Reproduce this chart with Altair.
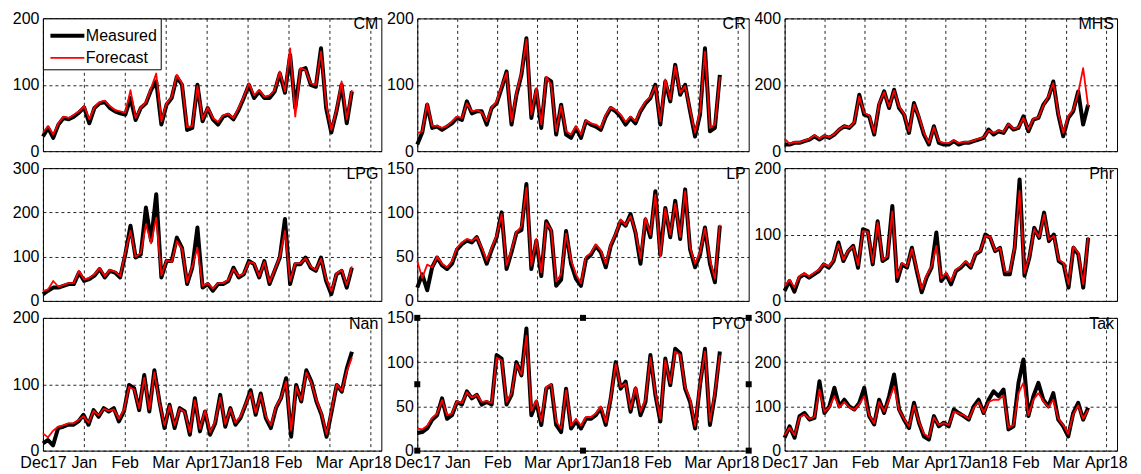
import altair as alt
import pandas as pd

FONT = "Liberation Sans"

# x axis: equally spaced month ticks (index 0..8)
X_TICKS = [0, 1, 2, 3, 4, 5, 6, 7, 8]
X_LABELS = ["Dec17", "Jan", "Feb", "Mar", "Apr17", "Jan18", "Feb", "Mar", "Apr18"]
X_MAX = 8.28
T_END = 7.56

NAMES = ["CM", "CR", "MHS", "LPG", "LP", "Phr", "Nan", "PYO", "Tak"]
Y_MAX = [200, 200, 400, 300, 150, 200, 200, 150, 300]
Y_TICKS = [[0, 100, 200], [0, 100, 200], [0, 200, 400], [0, 100, 200, 300],
           [0, 50, 100, 150], [0, 100, 200], [0, 100, 200], [0, 50, 100, 150],
           [0, 100, 200, 300]]

cm_meas = [22, 35, 20, 40, 50, 48, 52, 58, 66, 42, 65, 72, 74, 65, 60, 57, 55, 80, 47, 65, 72, 92, 105, 40, 70, 80, 112, 100, 32, 35, 100, 45, 65, 48, 40, 52, 55, 48, 62, 80, 100, 80, 90, 80, 80, 90, 117, 88, 145, 65, 122, 125, 100, 97, 155, 65, 28, 60, 100, 42, 90]
cm_fc = [28, 38, 25, 42, 52, 50, 55, 60, 68, 48, 66, 74, 76, 68, 62, 60, 58, 92, 50, 66, 74, 95, 117, 45, 72, 82, 115, 102, 36, 38, 98, 48, 66, 50, 44, 54, 56, 50, 65, 82, 102, 84, 92, 82, 84, 92, 120, 90, 155, 52, 125, 122, 102, 100, 150, 70, 32, 62, 105, 48, 92]

cr_meas = [10, 28, 70, 35, 37, 32, 37, 42, 50, 47, 75, 57, 60, 60, 40, 65, 72, 95, 120, 40, 85, 115, 170, 50, 92, 35, 110, 105, 25, 70, 25, 20, 35, 20, 45, 40, 37, 32, 52, 65, 60, 52, 40, 50, 42, 60, 72, 80, 100, 40, 105, 75, 130, 85, 100, 60, 22, 55, 155, 30, 35, 115]
cr_fc = [27, 30, 72, 38, 38, 35, 38, 45, 52, 50, 72, 60, 62, 58, 45, 66, 75, 98, 118, 45, 88, 118, 168, 55, 95, 40, 112, 100, 30, 68, 30, 25, 38, 25, 46, 42, 40, 35, 55, 66, 62, 55, 44, 52, 45, 62, 75, 82, 98, 45, 108, 78, 128, 88, 98, 62, 28, 60, 150, 35, 40, 112]

mhs_meas = [20, 20, 25, 25, 30, 35, 45, 35, 45, 40, 50, 65, 75, 70, 85, 170, 110, 105, 50, 140, 180, 130, 185, 130, 110, 55, 145, 100, 50, 20, 75, 25, 20, 20, 30, 20, 25, 25, 30, 35, 40, 65, 50, 60, 55, 80, 65, 70, 105, 60, 95, 100, 140, 160, 210, 110, 45, 100, 120, 180, 80, 140]
mhs_fc = [38, 22, 28, 27, 32, 37, 48, 38, 47, 42, 52, 66, 76, 72, 88, 165, 115, 108, 55, 145, 178, 135, 182, 135, 112, 60, 140, 105, 55, 25, 72, 30, 25, 24, 32, 25, 28, 28, 32, 38, 42, 62, 55, 62, 58, 82, 68, 72, 100, 65, 98, 102, 138, 165, 205, 115, 55, 105, 125, 175, 250, 135]

lpg_meas = [15, 23, 30, 30, 34, 38, 38, 64, 45, 49, 57, 72, 53, 68, 64, 53, 105, 170, 98, 105, 211, 136, 241, 53, 90, 90, 143, 120, 38, 75, 166, 30, 38, 23, 38, 38, 45, 75, 53, 60, 90, 83, 53, 90, 38, 68, 98, 185, 38, 83, 83, 98, 75, 68, 98, 45, 15, 60, 68, 30, 75]
lpg_fc = [22, 26, 45, 32, 36, 40, 40, 68, 48, 52, 60, 74, 56, 70, 66, 56, 110, 158, 100, 108, 173, 130, 188, 58, 92, 88, 135, 118, 42, 78, 120, 34, 40, 28, 40, 40, 48, 72, 56, 62, 88, 85, 56, 88, 42, 70, 100, 158, 45, 85, 85, 96, 78, 70, 95, 50, 22, 62, 70, 36, 78]

lp_meas = [15, 30, 12, 38, 49, 40, 36, 42, 58, 64, 68, 66, 72, 58, 42, 58, 72, 100, 36, 55, 77, 80, 132, 36, 68, 28, 90, 79, 17, 24, 79, 42, 25, 17, 47, 52, 62, 55, 38, 62, 75, 90, 85, 98, 77, 42, 92, 72, 124, 52, 105, 72, 113, 70, 126, 58, 38, 52, 83, 42, 21, 85]
lp_fc = [45, 26, 41, 38, 50, 42, 38, 45, 60, 66, 70, 68, 72, 60, 46, 60, 74, 98, 40, 58, 78, 84, 128, 40, 70, 32, 88, 80, 22, 30, 76, 46, 30, 20, 50, 54, 64, 57, 42, 64, 76, 92, 86, 96, 78, 48, 94, 75, 120, 50, 104, 75, 110, 72, 124, 60, 42, 55, 82, 46, 25, 86]

phr_meas = [15, 30, 14, 35, 40, 35, 40, 45, 55, 50, 60, 88, 60, 75, 83, 50, 108, 105, 55, 120, 60, 65, 143, 30, 55, 50, 80, 45, 13, 35, 50, 103, 30, 40, 25, 45, 50, 58, 50, 70, 75, 100, 95, 75, 80, 40, 40, 80, 183, 38, 65, 110, 95, 133, 90, 100, 60, 55, 20, 80, 70, 20, 95]
phr_fc = [22, 32, 20, 37, 42, 37, 42, 47, 56, 52, 62, 85, 62, 76, 82, 54, 105, 104, 58, 118, 62, 67, 135, 35, 57, 52, 78, 48, 18, 38, 52, 83, 34, 42, 30, 47, 52, 60, 52, 72, 76, 98, 96, 76, 80, 44, 44, 82, 166, 42, 67, 108, 96, 130, 92, 98, 62, 57, 25, 82, 72, 25, 96]

nan_meas = [11, 16, 8, 34, 36, 39, 39, 44, 54, 39, 61, 51, 64, 59, 64, 44, 59, 99, 94, 61, 114, 59, 121, 74, 34, 69, 34, 64, 59, 24, 79, 29, 59, 24, 41, 84, 36, 64, 39, 49, 69, 91, 54, 86, 49, 34, 64, 79, 109, 21, 99, 74, 121, 104, 74, 54, 21, 59, 99, 89, 124, 149]
nan_fc = [26, 20, 30, 36, 38, 41, 41, 46, 52, 42, 60, 53, 63, 60, 62, 48, 62, 96, 92, 64, 110, 62, 118, 72, 38, 68, 38, 63, 58, 28, 76, 33, 60, 28, 44, 80, 40, 63, 42, 52, 70, 88, 57, 84, 52, 38, 66, 80, 104, 30, 96, 76, 118, 102, 76, 56, 25, 62, 100, 90, 120, 140]

pyo_meas = [20, 21, 25, 35, 40, 59, 36, 40, 55, 52, 67, 59, 63, 52, 55, 52, 108, 104, 52, 63, 100, 85, 138, 40, 55, 29, 70, 74, 29, 21, 70, 25, 33, 25, 36, 36, 40, 48, 29, 59, 100, 70, 78, 44, 70, 40, 55, 108, 63, 33, 104, 74, 115, 110, 70, 55, 25, 74, 115, 29, 63, 112]
pyo_fc = [25, 24, 28, 37, 42, 57, 40, 42, 56, 54, 66, 60, 63, 55, 56, 54, 105, 102, 55, 65, 98, 86, 130, 45, 57, 33, 72, 75, 33, 25, 68, 28, 36, 28, 38, 38, 42, 50, 32, 60, 98, 72, 76, 47, 72, 44, 58, 105, 65, 36, 102, 76, 112, 108, 72, 58, 28, 76, 112, 33, 66, 108]

tak_meas = [29, 55, 29, 78, 85, 70, 74, 157, 85, 100, 142, 100, 115, 100, 93, 108, 142, 78, 59, 115, 85, 123, 172, 93, 70, 51, 108, 63, 32, 25, 78, 55, 63, 55, 93, 85, 78, 70, 100, 115, 85, 115, 134, 123, 138, 48, 55, 153, 206, 78, 123, 153, 115, 100, 130, 70, 55, 32, 85, 108, 70, 97]
tak_fc = [35, 52, 35, 75, 82, 72, 76, 138, 88, 98, 123, 98, 110, 98, 92, 105, 123, 80, 62, 110, 88, 115, 145, 92, 72, 55, 102, 65, 38, 30, 75, 58, 62, 58, 88, 84, 80, 72, 96, 110, 86, 110, 115, 115, 125, 52, 58, 130, 153, 80, 115, 130, 112, 98, 115, 72, 58, 38, 82, 102, 72, 92]

MEAS = [cm_meas, cr_meas, mhs_meas, lpg_meas, lp_meas, phr_meas, nan_meas, pyo_meas, tak_meas]
FC = [cm_fc, cr_fc, mhs_fc, lpg_fc, lp_fc, phr_fc, nan_fc, pyo_fc, tak_fc]

# selection handles visible around the PYO axes
PYO_HANDLE_X = [0, 4.14, 8.28, 0, 8.28, 0, 4.14, 8.28]
PYO_HANDLE_Y = [150, 150, 150, 75, 75, 0, 0, 0]

COL_W = [339, 332, 333]
PANEL_H = 133
SERIES = ["Measured", "Forecast"]

label_expr = "[" + ",".join("'%s'" % s for s in X_LABELS) + "][datum.value]"


def panel(k):
    name = NAMES[k]
    row, col = divmod(k, 3)
    recs = []
    for s, vals in zip(SERIES, [MEAS[k], FC[k]]):
        n = len(vals)
        for i, v in enumerate(vals):
            recs.append({"t": i * T_END / (n - 1), "value": v, "series": s})
    df = pd.DataFrame(recs)

    x = alt.X("t:Q", title=None,
              scale=alt.Scale(domain=[0, X_MAX], nice=False, zero=False),
              axis=alt.Axis(values=X_TICKS, labelExpr=label_expr, labels=(row == 2)))
    y = alt.Y("value:Q", title=None,
              scale=alt.Scale(domain=[0, Y_MAX[k]], nice=False),
              axis=alt.Axis(values=Y_TICKS[k]))
    if k == 0:
        leg = alt.Legend(title=None, orient="top-left", offset=0, padding=3,
                         fillColor="white", strokeColor="black",
                         labelFont=FONT, labelFontSize=16, labelColor="black",
                         symbolType="M-1.36,0H1.36", symbolSize=625,
                         symbolOffset=7, labelOffset=4, rowPadding=0)
    else:
        leg = None
    color = alt.Color("series:N", scale=alt.Scale(domain=SERIES, range=["#000000", "#ff0000"]), legend=leg)
    sw = alt.StrokeWidth("series:N", scale=alt.Scale(domain=SERIES, range=[4, 1.8]), legend=leg)

    base = alt.Chart(df)
    m = base.transform_filter("datum.series == 'Measured'").mark_line(strokeJoin="round").encode(x=x, y=y, color=color, strokeWidth=sw)
    f = base.transform_filter("datum.series == 'Forecast'").mark_line(strokeJoin="round").encode(x=x, y=y, color=color, strokeWidth=sw)
    layers = [m, f]
    if name == "PYO":
        hdf = pd.DataFrame({"hx": PYO_HANDLE_X, "hy": PYO_HANDLE_Y})
        h = alt.Chart(hdf).mark_square(size=36, color="black", opacity=1).encode(
            x=alt.X("hx:Q", scale=alt.Scale(domain=[0, X_MAX], nice=False, zero=False)),
            y=alt.Y("hy:Q", scale=alt.Scale(domain=[0, Y_MAX[k]], nice=False)))
        layers.append(h)
    return alt.layer(*layers).properties(
        width=COL_W[col], height=PANEL_H,
        title=alt.TitleParams(text=name, anchor="end", frame="group", offset=-22,
                              fontSize=16, fontWeight="normal", font=FONT,
                              color="black", dx=-3))


chart = alt.concat(*[panel(k) for k in range(9)], columns=3,
                   spacing={"row": 17, "column": 36}, bounds="flush", align="each")
chart = chart.resolve_scale(color="independent", strokeWidth="independent").properties(
    padding={"left": 3, "top": 1, "right": 5, "bottom": 2},
    background="white",
).configure_view(stroke="black", strokeWidth=1).configure_axis(
    grid=True, gridColor="black", gridDash=[3, 3], gridOpacity=0.85, gridWidth=1,
    domain=False, ticks=False, labelFont=FONT, labelFontSize=16, labelColor="black",
    labelPadding=4, labelFlush=False, labelOverlap=False
)

chart.save("out.html", embed_options={"renderer": "svg", "actions": False})
